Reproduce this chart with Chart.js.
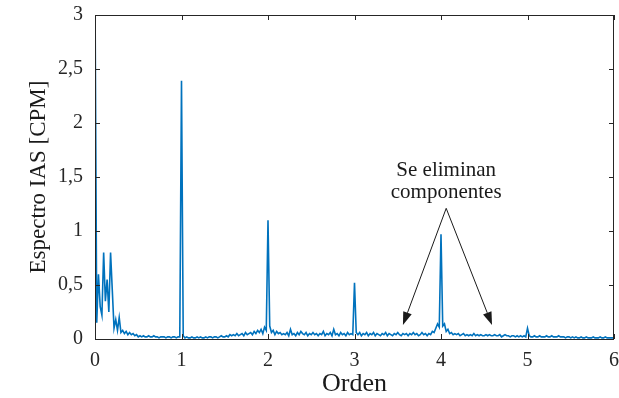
<!DOCTYPE html>
<html>
<head>
<meta charset="utf-8">
<script src="https://cdn.jsdelivr.net/npm/chart.js@4/dist/chart.umd.min.js"></script>
<style>
  html, body { margin: 0; padding: 0; background: #fff; }
  #wrap { width: 619px; height: 398px; }
</style>
</head>
<body>
<div id="wrap"><canvas id="espectroChart"></canvas></div>
<script>
// Espectro IAS, un valor cada 0,02 ordenes (0 .. 6)
var espectro = [
  3.2, 0.15, 0.60, 0.30, 0.22, 0.80, 0.35, 0.55, 0.25, 0.80,
  0.45, 0.10, 0.18, 0.08, 0.20, 0.06, 0.08, 0.05, 0.07, 0.04,
  0.06, 0.04, 0.05, 0.03, 0.04, 0.02, 0.03, 0.02, 0.03, 0.02,
  0.02, 0.03, 0.02, 0.02, 0.03, 0.02, 0.02, 0.01, 0.02, 0.02,
  0.02, 0.01, 0.02, 0.02, 0.01, 0.02, 0.02, 0.01, 0.02, 0.02,
  2.39, 0.03, 0.01, 0.02, 0.01, 0.01, 0.02, 0.01, 0.01, 0.02,
  0.01, 0.02, 0.01, 0.01, 0.02, 0.01, 0.02, 0.02, 0.01, 0.02,
  0.02, 0.01, 0.02, 0.03, 0.02, 0.02, 0.03, 0.02, 0.04, 0.03,
  0.04, 0.03, 0.05, 0.03, 0.04, 0.05, 0.03, 0.06, 0.04, 0.05,
  0.06, 0.04, 0.07, 0.05, 0.08, 0.06, 0.09, 0.05, 0.11, 0.08,
  1.10, 0.12, 0.06, 0.08, 0.04, 0.07, 0.05, 0.06, 0.04, 0.05,
  0.04, 0.06, 0.03, 0.09, 0.04, 0.05, 0.03, 0.06, 0.04, 0.07,
  0.05, 0.04, 0.06, 0.03, 0.05, 0.04, 0.06, 0.04, 0.05, 0.03,
  0.05, 0.04, 0.07, 0.03, 0.05, 0.04, 0.06, 0.03, 0.09, 0.04,
  0.05, 0.03, 0.06, 0.04, 0.05, 0.03, 0.06, 0.04, 0.05, 0.04,
  0.52, 0.06, 0.04, 0.06, 0.03, 0.05, 0.04, 0.06, 0.03, 0.05,
  0.04, 0.06, 0.03, 0.05, 0.04, 0.03, 0.05, 0.04, 0.06, 0.03,
  0.05, 0.04, 0.03, 0.05, 0.04, 0.06, 0.04, 0.03, 0.05, 0.04,
  0.05, 0.03, 0.05, 0.04, 0.06, 0.04, 0.05, 0.03, 0.04, 0.06,
  0.04, 0.05, 0.03, 0.05, 0.04, 0.07, 0.06, 0.10, 0.14, 0.11,
  0.97, 0.12, 0.14, 0.07, 0.09, 0.05, 0.06, 0.04, 0.05, 0.04,
  0.05, 0.03, 0.04, 0.05, 0.03, 0.04, 0.03, 0.04, 0.03, 0.05,
  0.03, 0.04, 0.03, 0.04, 0.03, 0.03, 0.04, 0.03, 0.04, 0.03,
  0.03, 0.04, 0.03, 0.03, 0.04, 0.02, 0.03, 0.04, 0.03, 0.03,
  0.02, 0.03, 0.03, 0.02, 0.03, 0.02, 0.03, 0.02, 0.03, 0.02,
  0.10, 0.03, 0.02, 0.02, 0.03, 0.02, 0.02, 0.03, 0.02, 0.02,
  0.02, 0.03, 0.02, 0.02, 0.03, 0.02, 0.02, 0.02, 0.03, 0.02,
  0.02, 0.02, 0.01, 0.02, 0.02, 0.01, 0.02, 0.01, 0.02, 0.01,
  0.01, 0.02, 0.01, 0.01, 0.02, 0.01, 0.01, 0.01, 0.02, 0.01,
  0.01, 0.01, 0.02, 0.01, 0.01, 0.02, 0.01, 0.01, 0.01, 0.01,
  0.01
];
var paso = 0.02;
var ordenes = espectro.map(function(v, i) { return +(i * paso).toFixed(2); });

var ticksX = [0, 1, 2, 3, 4, 5, 6];
var ticksY = [0, 0.5, 1, 1.5, 2, 2.5, 3];
var etiquetasY = ['0', '0,5', '1', '1,5', '2', '2,5', '3'];

// Anotacion: texto y flechas en coordenadas de datos
var notaTexto = ['Se eliminan', 'componentes'];
var notaOrigen = { x: 4.06, y: 1.21 };
var notaDestinos = [{ x: 3.56, y: 0.13 }, { x: 4.59, y: 0.13 }];

var serif = '"Liberation Serif", "DejaVu Serif", serif';
var ejeColor = '#262626';

var marcoPlugin = {
    id: 'marco',
    afterDatasetsDraw: function(chart) {
        var ctx = chart.ctx;
        var a = chart.chartArea;
        var sx = chart.scales.x, sy = chart.scales.y;
        ctx.save();
        ctx.strokeStyle = ejeColor;
        ctx.lineWidth = 1;
        ctx.strokeRect(Math.round(a.left) + 0.5, Math.round(a.top) + 0.5,
                       Math.round(a.right - a.left) - 1, Math.round(a.bottom - a.top));
        ctx.beginPath();
        ticksX.forEach(function(t) {
            var px = Math.round(sx.getPixelForValue(t)) + 0.5;
            ctx.moveTo(px, a.bottom); ctx.lineTo(px, a.bottom - 5);
            ctx.moveTo(px, a.top); ctx.lineTo(px, a.top + 5);
        });
        ticksY.forEach(function(t) {
            var py = Math.round(sy.getPixelForValue(t)) + 0.5;
            ctx.moveTo(a.left, py); ctx.lineTo(a.left + 5, py);
            ctx.moveTo(a.right, py); ctx.lineTo(a.right - 5, py);
        });
        ctx.stroke();

        // anotacion
        var ox = sx.getPixelForValue(notaOrigen.x), oy = sy.getPixelForValue(notaOrigen.y);
        ctx.fillStyle = '#1a1a1a';
        ctx.font = '21px ' + serif;
        ctx.textAlign = 'center';
        ctx.textBaseline = 'alphabetic';
        ctx.fillText(notaTexto[0], ox, oy - 32);
        ctx.fillText(notaTexto[1], ox, oy - 10);
        ctx.strokeStyle = '#1a1a1a';
        notaDestinos.forEach(function(d) {
            var dx = sx.getPixelForValue(d.x), dy = sy.getPixelForValue(d.y);
            var ang = Math.atan2(dy - oy, dx - ox);
            var len = 13, half = 4.5;
            var bx = dx - len * Math.cos(ang), by = dy - len * Math.sin(ang);
            ctx.beginPath();
            ctx.moveTo(ox, oy); ctx.lineTo(bx, by);
            ctx.stroke();
            ctx.beginPath();
            ctx.moveTo(dx, dy);
            ctx.lineTo(bx + half * Math.sin(ang), by - half * Math.cos(ang));
            ctx.lineTo(bx - half * Math.sin(ang), by + half * Math.cos(ang));
            ctx.closePath();
            ctx.fill();
        });
        ctx.restore();
    }
};

var ctx = document.getElementById('espectroChart');
var espectroChart = new Chart(ctx, {
    type: 'line',
    data: {
        datasets: [{
            label: 'Espectro IAS',
            data: ordenes.map(function(x, i) { return { x: x, y: espectro[i] }; }),
            borderColor: '#0072BD',
            borderWidth: 1.6,
            pointRadius: 0,
            tension: 0,
            fill: false
        }]
    },
    options: {
        responsive: true,
        maintainAspectRatio: false,
        animation: false,
        layout: { padding: { top: 15, right: 5, left: 0, bottom: 0 } },
        plugins: {
            legend: { display: false },
            tooltip: { enabled: false }
        },
        scales: {
            x: {
                type: 'linear',
                min: 0,
                max: 6,
                afterFit: function(scale) {
                    scale.height = 59;
                    scale.paddingLeft = 0;
                    scale.paddingRight = 0;
                },
                afterBuildTicks: function(scale) {
                    scale.ticks = ticksX.map(function(v) { return { value: v }; });
                },
                grid: { display: false, drawTicks: false },
                border: { display: false },
                ticks: {
                    color: ejeColor,
                    padding: 10,
                    maxRotation: 0,
                    font: { family: serif, size: 20 },
                    callback: function(value) { return String(value); }
                },
                title: {
                    display: true,
                    text: 'Orden',
                    color: '#1a1a1a',
                    padding: { top: 0, bottom: -2 },
                    font: { family: serif, size: 26 }
                }
            },
            y: {
                type: 'linear',
                min: 0,
                max: 3,
                afterFit: function(scale) {
                    scale.width = 95;
                    scale.paddingTop = 0;
                    scale.paddingBottom = 0;
                },
                afterBuildTicks: function(scale) {
                    scale.ticks = ticksY.map(function(v) { return { value: v }; });
                },
                grid: { display: false, drawTicks: false },
                border: { display: false },
                ticks: {
                    color: ejeColor,
                    padding: 12,
                    font: { family: serif, size: 20 },
                    callback: function(value) {
                        var i = ticksY.indexOf(value);
                        return i >= 0 ? etiquetasY[i] : '';
                    }
                },
                title: {
                    display: true,
                    text: 'Espectro IAS [CPM]',
                    color: '#1a1a1a',
                    padding: { top: 25, bottom: 0 },
                    font: { family: serif, size: 23 }
                }
            }
        }
    },
    plugins: [marcoPlugin]
});
</script>
</body>
</html>
